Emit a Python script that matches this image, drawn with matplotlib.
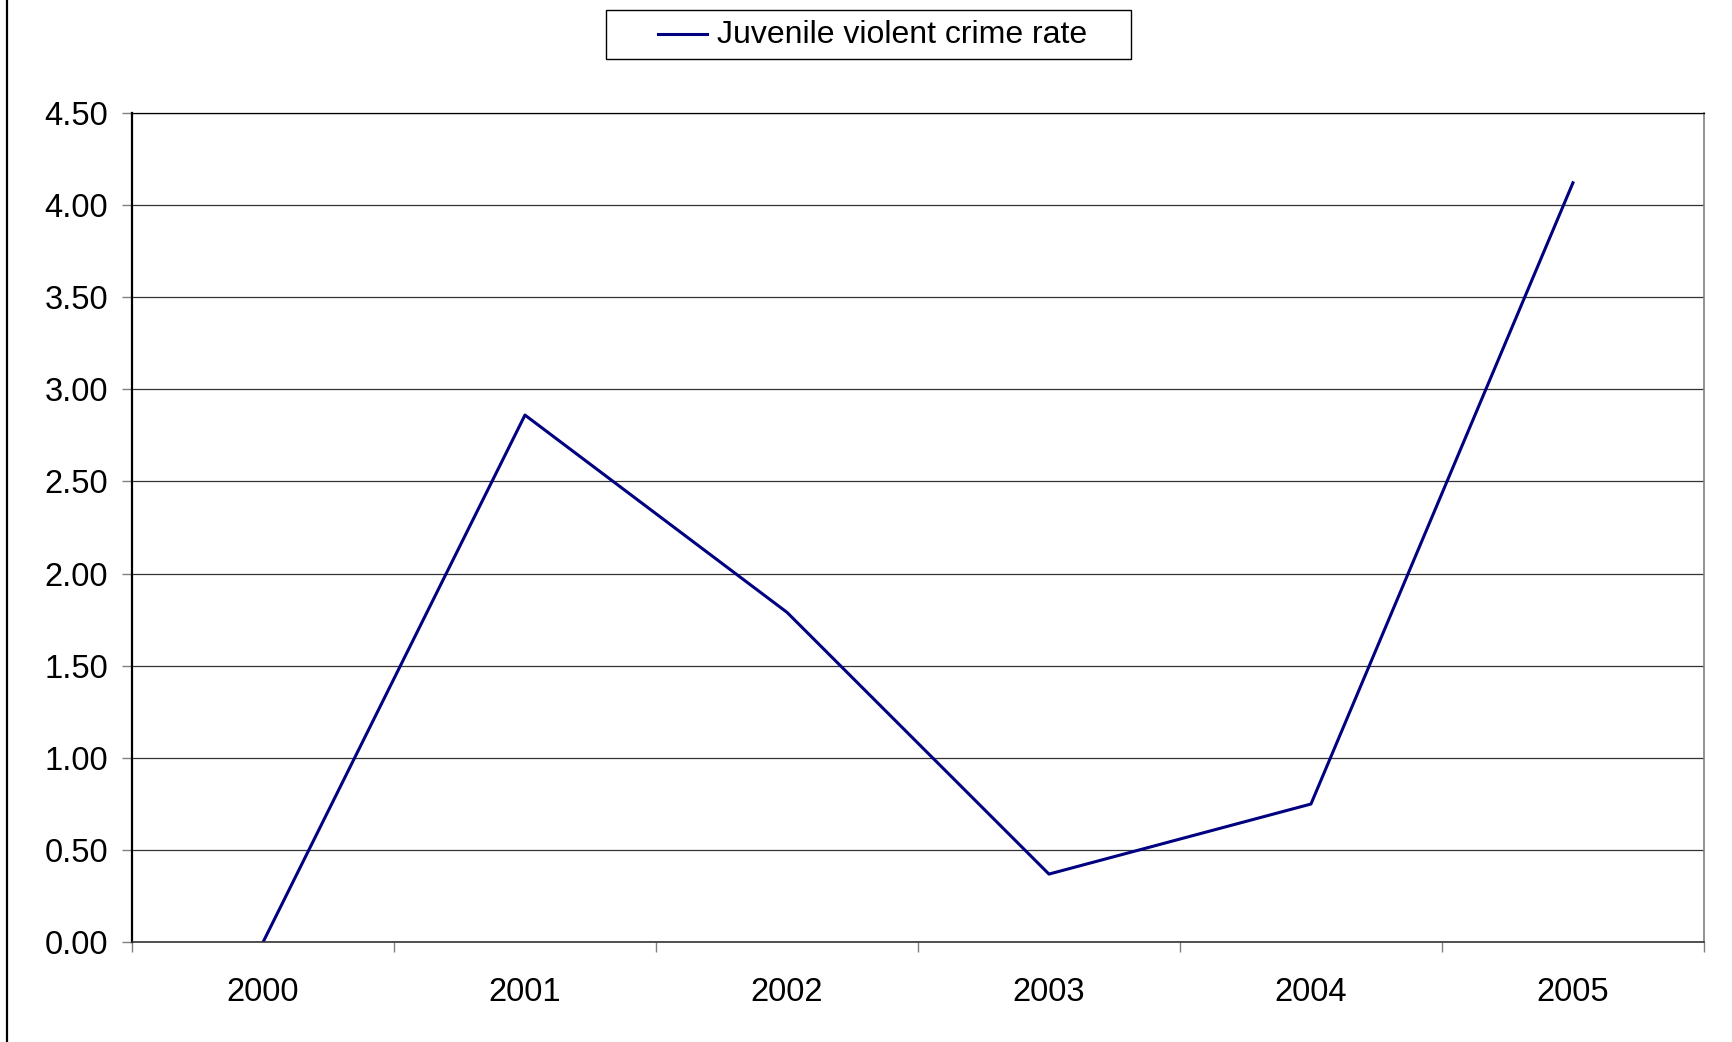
import numpy as np
import matplotlib.pyplot as plt
from matplotlib.lines import Line2D
from matplotlib.patches import Rectangle
from matplotlib.ticker import FixedLocator, FormatStrFormatter

plt.rcParams['font.family'] = ['Liberation Sans', 'DejaVu Sans']

years = ["2000", "2001", "2002", "2003", "2004", "2005"]
rate = [0.00, 2.86, 1.79, 0.37, 0.75, 4.12]
y_ticks = [0.0, 0.5, 1.0, 1.5, 2.0, 2.5, 3.0, 3.5, 4.0, 4.5]
series_name = "Juvenile violent crime rate"

W, H = 1732, 1042
fig = plt.figure(figsize=(W / 100, H / 100), dpi=100)
ax = fig.add_axes([0.0762, 0.0957, 0.9076, 0.7961])

x = np.arange(len(years))
line_color = "#000080"
ax.plot(x, rate, color=line_color, lw=2.2)

ax.set_xlim(-0.5, len(years) - 0.5)
ax.set_ylim(0, 4.5)

# category labels centred, tick marks on the boundaries
ax.set_xticks(x)
ax.set_xticklabels(years)
ax.xaxis.set_minor_locator(FixedLocator(np.arange(-0.5, len(years), 1.0)))
ax.tick_params(axis="x", which="major", length=0, pad=25, labelsize=23.5)
ax.tick_params(axis="x", which="minor", length=7.2, width=1, color="#808080", direction="out")

ax.set_yticks(y_ticks)
ax.yaxis.set_major_formatter(FormatStrFormatter("%.2f"))
ax.tick_params(axis="y", length=7.2, width=1, color="#808080", direction="out", pad=10, labelsize=23.5)

ax.grid(axis="y", color="#333333", lw=0.9)
ax.set_axisbelow(True)

ax.spines["left"].set_color("black")
ax.spines["left"].set_linewidth(1.6)
ax.spines["bottom"].set_color("#333333")
ax.spines["bottom"].set_linewidth(1.2)
ax.spines["top"].set_color("black")
ax.spines["top"].set_linewidth(0.9)
ax.spines["right"].set_color("#808080")
ax.spines["right"].set_linewidth(1.2)

# legend box drawn in pixel positions converted to figure fractions
def fx(px):
    return px / W

def fy(py):
    return 1 - py / H

fig.add_artist(Rectangle((fx(606), fy(58.5)), fx(1131) - fx(606), fy(10) - fy(58.5),
                         facecolor="white", edgecolor="black", lw=1.0))
fig.add_artist(Line2D([fx(658), fx(707)], [fy(34), fy(34)], color=line_color, lw=2.2))
fig.text(fx(717), fy(35), series_name, fontsize=23, ha="left", va="center")

# outer chart border on the left
fig.add_artist(Line2D([0.0042, 0.0042], [0, 1], color="black", lw=1.6))

fig.savefig("out.png", dpi=100)
